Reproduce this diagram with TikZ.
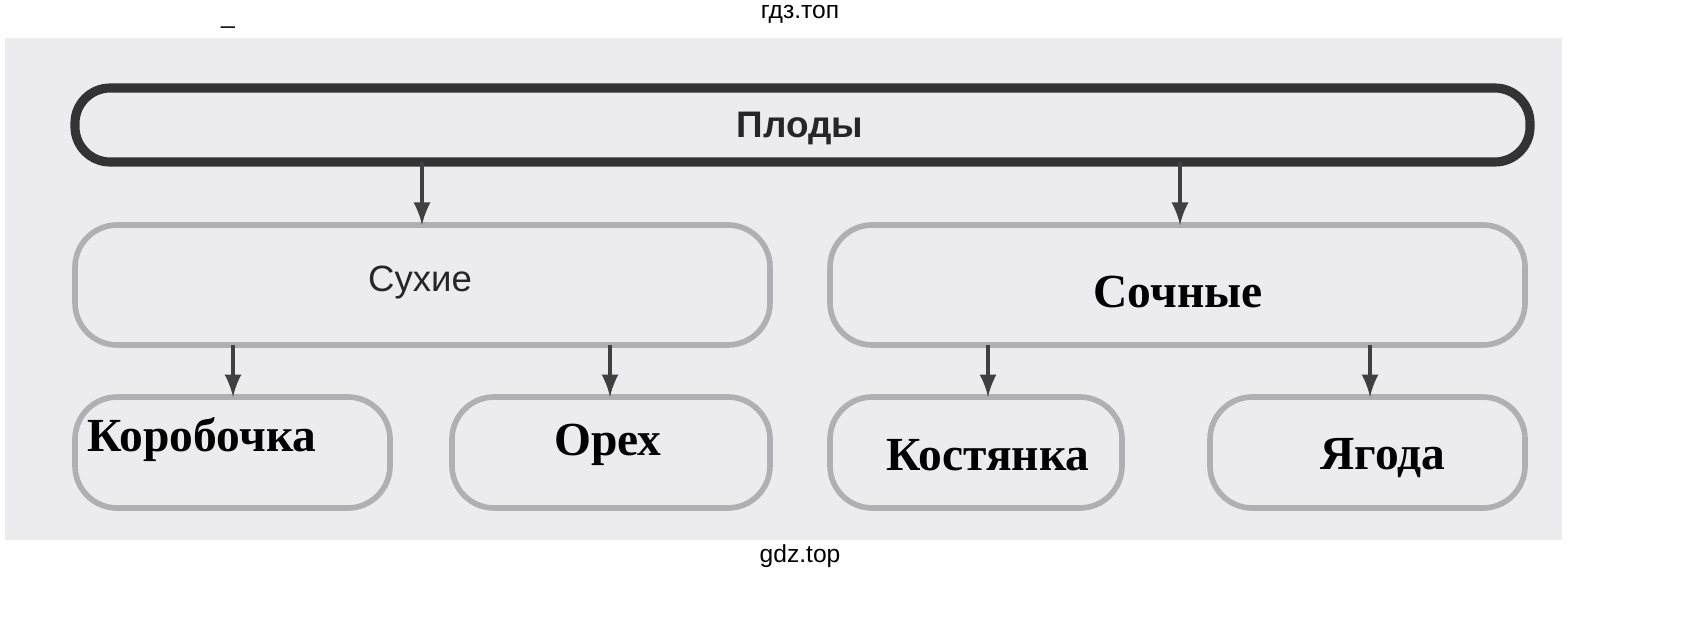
\documentclass[tikz,border=0pt]{standalone}
\usepackage{fontspec}
\setmainfont{Liberation Serif}
\setsansfont{Liberation Sans}
\usetikzlibrary{positioning}
\definecolor{scan}{RGB}{236,236,238}
\definecolor{boxline}{RGB}{175,175,180}
\tikzset{
  box/.style={draw=boxline,line width=1.6pt,rounded corners=12pt},
  arr/.style={-latex,line width=1.2pt,black!75},
  hand/.style={font=\rmfamily\bfseries\fontsize{13.5}{13.5}\selectfont},
  print/.style={font=\sffamily\fontsize{10.4}{10.4}\selectfont,text=black!85},
}
\begin{document}
\begin{tikzpicture}[x=0.01cm,y=-0.01cm]
	\fill[scan] (5,38) rectangle (1562,540);
	%––––– watermarks –––––
	\node[font=\sffamily\fontsize{7}{7}\selectfont] (wm1) at (800,14) {гдз.топ};
	\node[font=\sffamily\fontsize{7}{7}\selectfont] (wm2) at (800,556) {gdz.top};
	\node[font=\sffamily\fontsize{7}{7}\selectfont] (dash) at (228,26) {\_};

	%––––– row 1 –––––
	\draw[box,draw=black!80,line width=2.6pt,rounded corners=10pt] (75,88) rectangle (1530,162);
	\node[print,font=\sffamily\bfseries\fontsize{10.5}{10.5}\selectfont] (fruit) at (800,128) {Плоды};
	\coordinate (f1) at (422,162);
	\coordinate (f2) at (1180,162);

	%––––– row 2 –––––
	\draw[box] (75,225) rectangle (770,345);
	\node[print] (dry) at (420,283) {Сухие};
	\draw[box] (830,225) rectangle (1525,345);
	\node[hand] (juicy) at (1178,292) {Сочные};
	\coordinate (m1) at (422,225);
	\coordinate (m2) at (1180,225);
	\draw[arr] (f1) -- (m1);
	\draw[arr] (f2) -- (m2);

	%––––– row 3 –––––
	\draw[box] (75,397) rectangle (390,508);
	\draw[box] (452,397) rectangle (770,508);
	\draw[box] (830,397) rectangle (1122,508);
	\draw[box] (1210,397) rectangle (1525,508);
	\node[hand] (capsule) at (202,440) {Коробочка};
	\node[hand] (nut) at (608,445) {Орех};
	\node[hand] (drupe) at (988,455) {Костянка};
	\node[hand] (berry) at (1383,458) {Ягода};
	\foreach \x in {233,610,988,1370} {
		\coordinate (t\x) at (\x,345);
		\coordinate (b\x) at (\x,397);
		\draw[arr] (t\x) -- (b\x);
	}
	\pgfresetboundingbox
	\path[use as bounding box] (0,0) rectangle (1686,618);
\end{tikzpicture}
\end{document}
